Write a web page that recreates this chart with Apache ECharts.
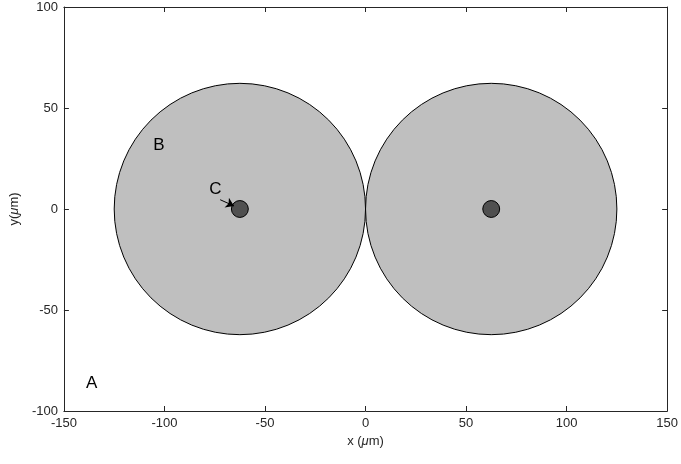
<!DOCTYPE html>
<html>
<head>
<meta charset="utf-8">
<script src="https://cdn.jsdelivr.net/npm/echarts@6/dist/echarts.min.js"></script>
<style>html,body{margin:0;padding:0;background:#fff}#chart{width:681px;height:464px}</style>
</head>
<body>
<div id="chart"></div>
<script>
// 大圆：中心与半径 (μm)
const bigCircles = [[-62.5, 0, 62.5], [62.5, 0, 62.5]];
// 小圆：中心与半径
const smallCircles = [[-62.5, 0, 4.2], [62.5, 0, 4.2]];
// 文字标注
const labels = [['A', -136.2, -86.3], ['B', -102.8, 31.3], ['C', -74.7, 9.8]];
// 箭头：起点与终点
const arrowFrom = [-72.3, 4.6];
const arrowTo = [-65.4, 1.5];

const xTicks = [-150, 150, 50];
const yTicks = [-100, 100, 50];

const chart = echarts.init(document.getElementById('chart'));

const font = 'Liberation Sans, Arial, sans-serif';
const textColor = '#262626';

function circleSeries(data, fill) {
    return {
        type: 'custom',
        coordinateSystem: 'cartesian2d',
        data: data,
        renderItem: (params, api) => {
            const c = api.coord([api.value(0), api.value(1)]);
            const r = api.size([api.value(2), 0])[0];
            return {
                type: 'circle',
                shape: { cx: c[0], cy: c[1], r: r },
                style: { fill: fill, stroke: '#000', lineWidth: 1 }
            };
        },
        z: 2
    };
}

const axisBase = {
    type: 'value',
    axisLine: { show: true, onZero: false, lineStyle: { color: textColor, width: 1 } },
    axisTick: { show: true, inside: true, length: 5, lineStyle: { color: textColor } },
    splitLine: { show: false }
};

const nameRich = {
    n: { color: textColor, fontSize: 13, fontFamily: font },
    m: { color: textColor, fontSize: 13, fontFamily: font, fontStyle: 'italic' }
};

const option = {
    animation: false,
    grid: { left: 63.5, right: 11, top: 7, bottom: 53 },
    xAxis: [
        Object.assign({}, axisBase, {
            position: 'bottom', min: xTicks[0], max: xTicks[1], interval: xTicks[2],
            axisLabel: { color: textColor, fontSize: 13, fontFamily: font, margin: 6 },
            name: '{n|x (}{m|μ}{n|m)}', nameLocation: 'middle', nameGap: 23,
            nameTextStyle: { rich: nameRich }
        }),
        Object.assign({}, axisBase, {
            position: 'top', min: xTicks[0], max: xTicks[1], interval: xTicks[2],
            axisLabel: { show: false }
        })
    ],
    yAxis: [
        Object.assign({}, axisBase, {
            position: 'left', min: yTicks[0], max: yTicks[1], interval: yTicks[2],
            axisLabel: { color: textColor, fontSize: 13, fontFamily: font, margin: 6 },
            name: '{n|y(}{m|μ}{n|m)}', nameLocation: 'middle', nameGap: 40,
            nameTextStyle: { rich: nameRich }
        }),
        Object.assign({}, axisBase, {
            position: 'right', min: yTicks[0], max: yTicks[1], interval: yTicks[2],
            axisLabel: { show: false }
        })
    ],
    series: [
        circleSeries(bigCircles, '#bfbfbf'),
        circleSeries(smallCircles, '#505050'),
        {
            type: 'custom',
            coordinateSystem: 'cartesian2d',
            data: labels.map(l => [l[1], l[2]]),
            renderItem: (params, api) => {
                const c = api.coord([api.value(0), api.value(1)]);
                return {
                    type: 'text',
                    style: {
                        text: labels[params.dataIndex][0], x: c[0], y: c[1],
                        textAlign: 'center', textVerticalAlign: 'middle',
                        fill: '#000', fontSize: 17, fontFamily: font
                    }
                };
            },
            z: 3
        },
        {
            type: 'lines',
            coordinateSystem: 'cartesian2d',
            data: [{ coords: [arrowFrom, arrowTo] }],
            symbol: ['none', 'arrow'],
            symbolSize: 8,
            lineStyle: { color: '#000', width: 1, opacity: 1 },
            z: 4
        }
    ]
};

chart.setOption(option);
</script>
</body>
</html>
